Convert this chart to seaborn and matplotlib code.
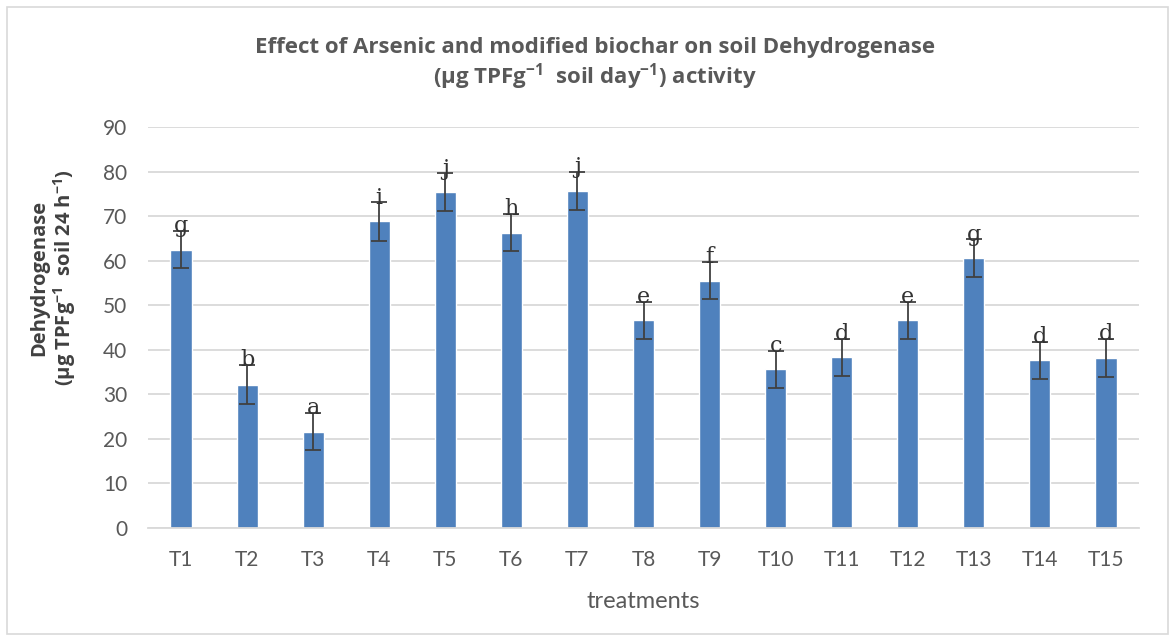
import matplotlib
matplotlib.use("Agg")
import matplotlib.pyplot as plt
import seaborn as sns
import pandas as pd
import numpy as np

treatments = ["T1", "T2", "T3", "T4", "T5", "T6", "T7", "T8", "T9", "T10", "T11", "T12", "T13", "T14", "T15"]
values = [62.5, 32.2, 21.6, 68.8, 75.4, 66.3, 75.7, 46.6, 55.5, 35.6, 38.3, 46.6, 60.6, 37.6, 38.2]
errors = [4.2, 4.4, 4.2, 4.3, 4.2, 4.2, 4.3, 4.2, 4.2, 4.2, 4.2, 4.2, 4.2, 4.2, 4.2]
letters = ["g", "b", "a", "i", "j", "h", "j", "e", "f", "c", "d", "e", "g", "d", "d"]
yticks = [0, 10, 20, 30, 40, 50, 60, 70, 80, 90]

sns.set_theme(style="white")
plt.rcParams['font.family'] = ['Lato', 'DejaVu Sans']
plt.rcParams['mathtext.fontset'] = 'custom'
plt.rcParams['mathtext.rm'] = 'Open Sans'
plt.rcParams['mathtext.bf'] = 'Open Sans:bold'

BOLD = ['Open Sans', 'DejaVu Sans']

df = pd.DataFrame({"treatment": treatments, "value": values})

fig = plt.figure(figsize=(11.75, 6.41), dpi=100)
ax = fig.add_axes([148/1175, 1 - 528/641, (1139-148)/1175, (528-127)/641])

sns.barplot(data=df, x="treatment", y="value", color="#4F81BD", saturation=1,
            width=0.32, ax=ax, errorbar=None)
xs = np.arange(len(treatments))
ax.errorbar(xs, values, yerr=errors, fmt="none", ecolor="#404040", elinewidth=1.3,
            capsize=6, capthick=1.3)
for x, v, e, l in zip(xs, values, errors, letters):
    ax.text(x, v + e - 1.4, l, ha="center", va="bottom", fontsize=16,
            family="DejaVu Serif", color="#333333")

ax.set_ylim(0, 90)
ax.set_xlim(-0.5, len(treatments) - 0.5)
ax.set_yticks(yticks)
ax.yaxis.grid(True, color="#D9D9D9", linewidth=1.3)
ax.set_axisbelow(True)
for s in ["top", "right", "left"]:
    ax.spines[s].set_visible(False)
ax.spines["bottom"].set_color("#D9D9D9")
ax.spines["bottom"].set_linewidth(1.3)
ax.tick_params(axis="both", colors="#595959", labelsize=15, length=0)
ax.tick_params(axis="y", pad=15)
ax.tick_params(axis="x", pad=16)
ax.set_xlabel("treatments", fontsize=17, color="#595959", labelpad=15)
ax.set_ylabel("")
fig.text(54/1175, 1 - 278/641,
         "Dehydrogenase\n(µg TPFg$^{\\mathbf{-1}}$  soil 24 h$^{\\mathbf{-1}}$)",
         rotation=90, ha="center", va="center", multialignment="center",
         fontsize=14.5, fontweight="bold", family=BOLD, color="#404040", linespacing=1.1)

fig.text(595/1175, 1 - 47/641, "Effect of Arsenic and modified biochar on soil Dehydrogenase",
         ha="center", va="center", fontsize=16, fontweight="bold", family=BOLD, color="#595959")
fig.text(595/1175, 1 - 77/641, "(µg TPFg$^{\\mathbf{-1}}$  soil day$^{\\mathbf{-1}}$) activity",
         ha="center", va="center", fontsize=16, fontweight="bold", family=BOLD, color="#595959")

border = plt.Rectangle((7/1175, 7/641), 1 - 14/1175, 1 - 14/641, transform=fig.transFigure,
                       fill=False, edgecolor="#D9D9D9", linewidth=1.2)
fig.patches.append(border)

fig.savefig("out.png", dpi=100)
